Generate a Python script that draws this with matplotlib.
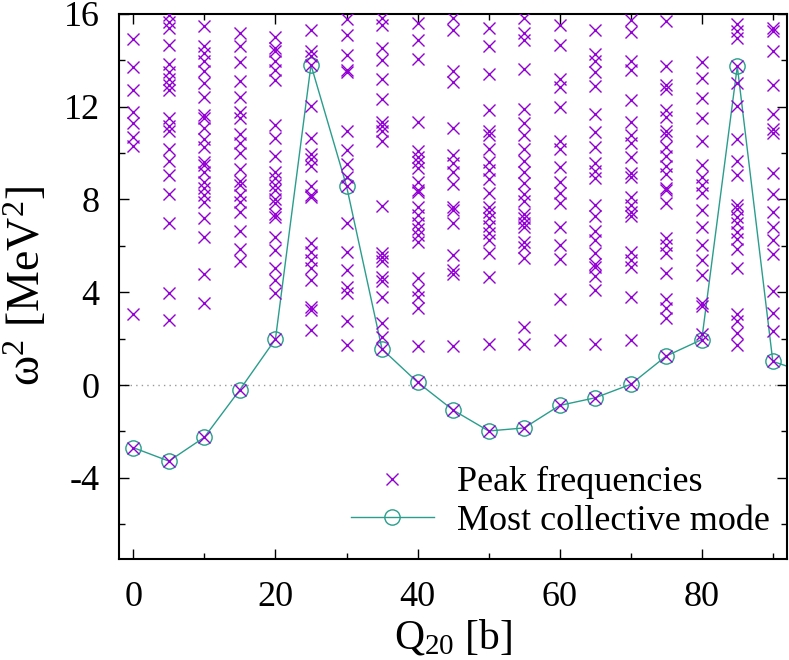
import numpy as np
import matplotlib.pyplot as plt

plt.rcParams['font.family'] = ['Liberation Serif', 'DejaVu Serif']
plt.rcParams['mathtext.fontset'] = 'custom'
plt.rcParams['mathtext.rm'] = 'Liberation Serif'
plt.rcParams['mathtext.default'] = 'rm'
plt.rcParams['axes.unicode_minus'] = False

# deformation points (b)
q20 = [0, 5, 10, 15, 20, 25, 30, 35, 40, 45, 50, 55, 60, 65, 70, 75, 80, 85, 90, 95]

# omega^2 of the most collective mode (MeV^2)
collective = [-2.7, -3.28, -2.25, -0.2, 1.98, 13.8, 8.58, 1.55, 0.12, -1.08,
              -1.98, -1.85, -0.88, -0.55, 0.03, 1.25, 1.96, 13.74, 1.02, 0.5]

# other peak frequencies for each Q20 (MeV^2)
peaks = [
    [14.9, 13.7, 12.7, 11.75, 11.3, 10.7, 10.3, 3.05],
    [15.95, 15.64, 15.39, 14.67, 13.84, 13.48, 13.2, 12.95, 12.73, 11.51, 11.18,
     10.96, 10.17, 9.66, 9.06, 8.22, 6.97, 3.95, 2.79],
    [15.47, 14.6, 14.31, 13.95, 13.52, 13.02, 12.41, 11.65, 11.51, 11.08, 10.6,
     10.28, 9.63, 9.49, 9.2, 8.77, 8.48, 8.19, 7.9, 7.19, 6.39, 4.78, 3.52],
    [15.18, 14.6, 13.93, 13.12, 12.4, 11.79, 11.51, 10.83, 10.43, 9.99, 9.32,
     8.8, 8.63, 8.19, 7.9, 7.47, 6.65, 5.86, 5.36],
    [14.99, 14.53, 14.39, 13.95, 13.59, 13.16, 11.22, 10.64, 9.88, 9.2, 8.91,
     8.63, 8.41, 8.01, 7.86, 7.37, 7.23, 6.39, 5.82, 5.03, 4.52, 3.95],
    [15.29, 14.39, 14.17, 12.04, 10.64, 9.97, 9.75, 9.46, 8.6, 8.19, 8.12,
     6.11, 5.75, 5.39, 5.03, 4.52, 3.37, 3.23, 2.36],
    [15.78, 15.08, 14.21, 13.59, 13.48, 10.96, 10.11, 9.52, 8.98, 6.97, 5.72,
     4.95, 4.23, 3.95, 2.75, 1.71],
    [15.83, 15.54, 14.53, 14.03, 13.19, 12.33, 11.36, 11.15, 10.96, 10.5, 7.73,
     5.7, 5.53, 5.34, 4.64, 4.49, 3.8, 2.68, 2.07],
    [15.61, 14.89, 14.06, 11.36, 10.07, 9.85, 9.63, 9.35, 8.77, 8.41, 8.34,
     7.69, 7.33, 6.97, 6.71, 6.47, 6.18, 4.6, 4.09, 3.8, 3.3, 1.67],
    [15.83, 15.29, 13.55, 13.05, 11.08, 9.92, 9.56, 9.2, 8.66, 7.69, 7.55,
     6.97, 5.6, 4.98, 4.78, 1.67],
    [15.37, 14.6, 13.41, 11.87, 10.93, 10.79, 10.18, 9.63, 9.27, 8.89, 8.29,
     7.69, 7.47, 7.19, 6.86, 6.54, 6.25, 5.7, 4.64, 1.79],
    [15.83, 15.18, 14.86, 13.62, 11.91, 11.29, 10.76, 10.17, 9.66, 9.17, 8.72,
     8.22, 7.95, 7.37, 7.19, 6.97, 6.8, 6.18, 5.94, 5.46, 2.51, 1.76],
    [15.54, 14.67, 13.2, 12.83, 11.98, 10.5, 10.17, 9.42, 8.77, 8.29, 7.84,
     6.8, 6.03, 5.42, 3.73, 1.93],
    [15.29, 14.27, 13.95, 13.48, 12.9, 11.69, 10.89, 10.25, 9.56, 9.23, 8.94,
     7.76, 7.29, 6.65, 6.25, 5.68, 5.21, 5.07, 4.71, 4.09, 1.79],
    [15.72, 15.21, 13.95, 13.59, 12.27, 11.36, 10.79, 10.45, 9.85, 9.16, 8.98,
     8.12, 7.76, 7.47, 7.29, 5.75, 5.39, 5.07, 3.78, 1.93],
    [15.68, 13.77, 12.95, 12.76, 11.87, 11.55, 10.93, 10.76, 10.24, 9.88, 9.46,
     9.09, 8.51, 8.41, 7.84, 6.32, 6.03, 5.7, 4.81, 3.73, 3.3, 2.87],
    [13.93, 13.24, 12.37, 11.51, 10.5, 9.49, 8.98, 8.63, 8.27, 7.55, 6.83,
     6.03, 5.39, 4.74, 3.52, 3.4, 2.22],
    [15.58, 15.25, 14.96, 13.02, 12.04, 10.6, 9.66, 9.06, 7.76, 7.58, 7.26,
     6.97, 6.61, 6.28, 5.85, 5.05, 3.08, 2.76, 2.25, 1.71],
    [15.4, 15.25, 14.39, 12.95, 11.69, 11.03, 10.86, 9.16, 8.24, 7.45, 6.8,
     6.25, 5.65, 4.06, 3.11, 2.32],
    [],
]

purple = '#9400d3'
teal = '#2a9d8c'

fig = plt.figure(figsize=(7.89, 6.6), dpi=100)
ax = fig.add_axes([0.151, 0.153, 0.8465, 0.826])

ax.axhline(0, color='#999999', lw=1.0, ls=(0, (1, 3)), zorder=1)

px = []
py = []
for q, ws, c in zip(q20, peaks, collective):
    for w in ws + [c]:
        px.append(q)
        py.append(w)
ax.plot(px, py, ls='none', marker='x', ms=8, mew=1.0, color=purple,
        label='Peak frequencies', zorder=3)
ax.plot(q20, collective, color=teal, lw=1.0, marker='o', ms=11, mfc='none',
        mew=1.0, mec=teal, label='Most collective mode', zorder=2)

ax.set_xlim(-2, 92)
ax.set_ylim(-7.5, 16)
ax.set_xticks([0, 20, 40, 60, 80])
ax.set_xticks([10, 30, 50, 70, 90], minor=True)
ax.set_yticks([-4, 0, 4, 8, 12, 16])
ax.set_yticks([-6, -2, 2, 6, 10, 14], minor=True)
ax.tick_params(which='both', direction='in', top=True, right=True,
               labelsize=26, width=1.0)
ax.tick_params(axis='x', pad=16)
ax.tick_params(axis='y', pad=14)
ax.tick_params(which='major', length=7)
ax.tick_params(which='minor', length=4)
for s in ax.spines.values():
    s.set_linewidth(1.5)

ax.set_xlabel('Q$_{20}$ [b]', fontsize=30, labelpad=2)
ax.set_ylabel('ω$^2$ [MeV$^2$]', fontsize=33, labelpad=10)

ax.legend(loc='lower right', frameon=False, fontsize=26, handlelength=2.3,
          handletextpad=0.65, borderaxespad=0.0, labelspacing=0.15,
          numpoints=1, bbox_to_anchor=(0.996, 0.012))

fig.savefig('out.png', dpi=100)
